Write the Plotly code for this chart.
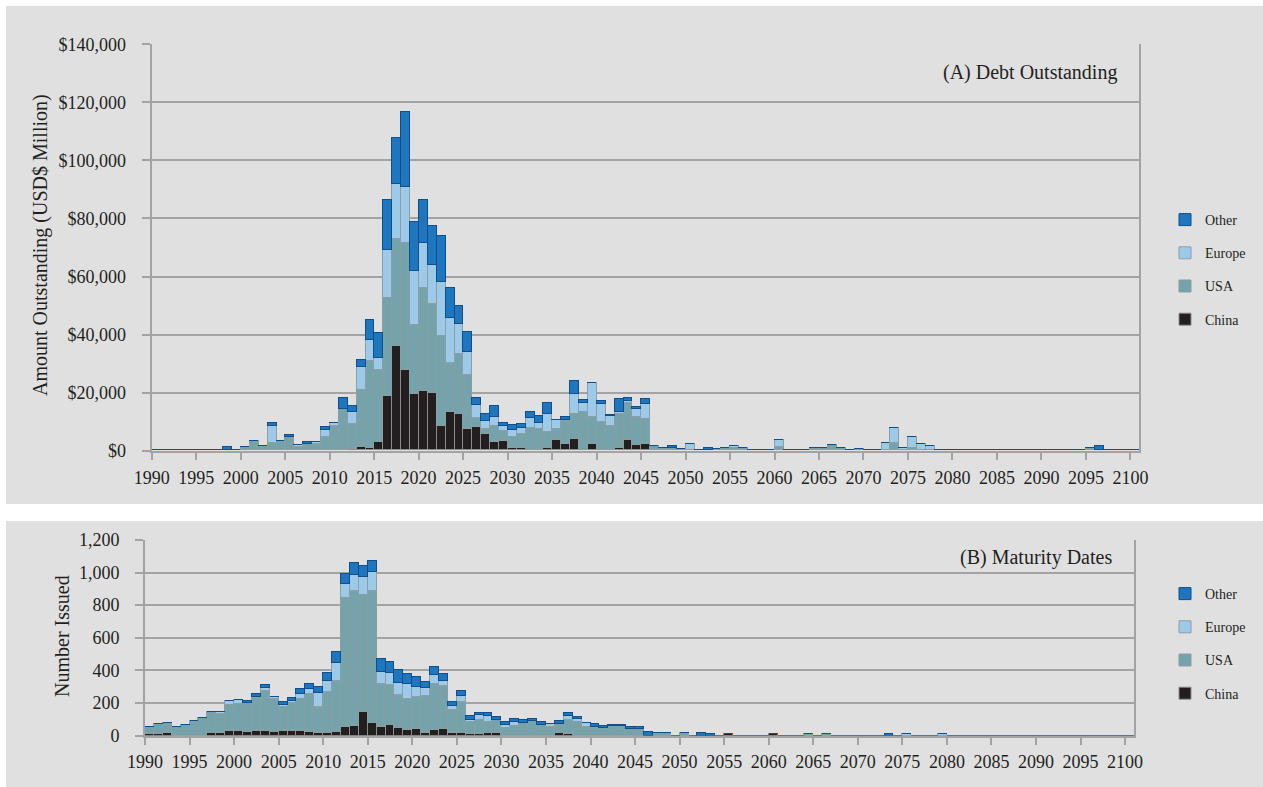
import plotly.graph_objects as go

# ---------------- data ----------------
years = list(range(1990, 2101))

# (A) Debt outstanding, USD$ million, by maturity year (1990..2100)
debt_china = ([0] * 20 +
              [0, 0, 600, 1200, 700, 2800, 18800, 35800, 27700, 19600,
               20600, 19900, 8500, 13100, 12500, 7500, 8100, 5500, 2900, 3300,
               700, 700, 0, 0, 700, 3600, 2300, 3900, 300, 2300,
               300, 300, 900, 3700, 1900, 2100, 0, 0, 0, 0] +
              [0] * 51)
debt_usa = ([0] * 10 +
            [1200, 3400, 1600, 2500, 3400, 4600, 1200, 2100, 2100, 4700,
             8300, 14400, 8500, 19500, 30000, 24800, 33700, 37000, 43900, 23600,
             35500, 30700, 30900, 17000, 20800, 18600, 3100, 1900, 5600, 3500,
             4000, 5100, 7800, 7500, 5700, 3800, 8000, 8700, 13000, 9200,
             9500, 8100, 11700, 12800, 9700, 8700, 1400, 900, 800, 400,
             0, 300, 0, 500, 900, 900, 900, 0, 0, 0,
             1100, 300, 300, 300, 900, 900, 1700, 900, 0, 400,
             0, 0, 0, 2500, 0, 900, 0, 0, 0, 0] +
            [0] * 10 +
            [0, 0, 0, 0, 0, 900, 0, 0, 0, 0, 0])
debt_europe = ([0] * 10 +
               [0, 0, 0, 5800, 0, 0, 700, 0, 700, 2200,
                1200, 0, 4200, 8200, 7200, 4200, 16500, 19000, 19000, 18700,
                15400, 13400, 18600, 15500, 10300, 7800, 4400, 2800, 2900, 1700,
                2400, 2000, 3400, 2000, 6200, 3200, 300, 7000, 3000, 11700,
                6200, 3300, 700, 600, 2700, 5200, 0, 0, 0, 0,
                2200, 0, 0, 0, 0, 600, 0, 0, 0, 0,
                2500, 0, 0, 0, 0, 0, 0, 0, 0, 0,
                0, 0, 2400, 5200, 1000, 3700, 2200, 1500, 0, 0] +
               [0] * 21)
debt_other = ([0, 0, 0, 0, 0, 0, 0, 0, 1200, 0,
               0, 0, 0, 1000, 0, 600, 0, 900, 0, 1000,
               0, 3500, 1900, 2300, 6900, 8500, 17100, 15700, 26100, 16800,
               14900, 13200, 16000, 10400, 6000, 7000, 2300, 2200, 3900, 1100,
               1500, 1300, 1900, 2300, 3700, 0, 900, 4400, 1100, 0,
               1100, 600, 4500, 800, 600, 1800, 0, 0, 600, 0,
               0, 0, 800, 0, 0, 0, 0, 0, 0, 0] +
              [0] * 30 +
              [0, 0, 0, 0, 0, 0, 1400, 0, 0, 0, 0])

# (B) Number of issues, by maturity year (1990..2100)
num_china = ([8, 9, 13, 0, 0, 0, 0, 17, 17, 26,
              26, 24, 26, 26, 21, 26, 26, 26, 21, 13,
              17, 21, 54, 58, 142, 77, 50, 64, 46, 32,
              38, 17, 32, 40, 13, 13, 9, 9, 13, 13,
              0, 0, 0, 0, 0, 0, 13, 11, 0, 0] +
             [0] * 10 +
             [0, 0, 0, 0, 0, 12, 0, 0, 0, 0,
              12, 0, 0, 0, 0, 0, 0, 0, 0, 0] +
             [0] * 31)
num_usa = ([46, 62, 66, 54, 62, 81, 107, 127, 113, 161,
            169, 173, 212, 245, 201, 151, 171, 198, 234, 164,
            248, 316, 788, 829, 718, 808, 268, 244, 203, 190,
            198, 228, 282, 262, 144, 193, 74, 84, 72, 84,
            48, 56, 79, 87, 66, 54, 60, 82, 81, 52,
            48, 44, 56, 56, 42, 42, 0, 13, 13, 0,
            15, 0, 0, 0, 0, 0, 0, 0, 0, 0,
            0, 0, 0, 0, 12, 0, 12, 0, 0, 0] +
           [0] * 31)
num_europe = ([0, 0, 0, 0, 0, 10, 0, 0, 14, 23,
               23, 0, 0, 19, 16, 12, 17, 28, 31, 85,
               70, 110, 86, 96, 111, 117, 72, 78, 71, 92,
               64, 47, 55, 33, 22, 39, 12, 33, 37, 0,
               18, 25, 0, 0, 0, 16, 0, 29, 20, 27,
               6, 0, 0, 0, 0, 0, 0, 0, 0, 0] +
              [0] * 20 +
              [0, 0, 0, 0, 0, 10, 0, 0, 0, 10] +
              [0] * 21)
num_other = ([0] * 10 +
             [0, 17, 17, 18, 0, 17, 16, 34, 32, 34,
              46, 68, 63, 74, 69, 69, 81, 67, 80, 63,
              61, 34, 49, 42, 27, 30, 25, 10, 14, 15,
              17, 22, 18, 16, 15, 0, 18, 14, 13, 0,
              15, 14, 8, 8, 8, 12, 19, 0, 0, 0,
              0, 0, 13, 11, 0, 0, 0, 0, 0, 0] +
             [0] * 10 +
             [0, 0, 0, 12, 0, 0, 0, 0, 0, 0] +
             [0] * 31)

series_names = ["China", "USA", "Europe", "Other"]
legend_rank = {"Other": 1, "Europe": 2, "USA": 3, "China": 4}
fills = {"China": "#231F20", "USA": "#74A3AB", "Europe": "#9DCAE9", "Other": "#1E76BF"}
edges = {"China": "#8C8C8C", "USA": "#8E9C9E", "Europe": "#8E9EA8", "Other": "#0E4F8C"}

W, H = 1263, 787
FONT = "Liberation Serif, Times New Roman, serif"
TXT = "#231F20"
GRID = "#A3A3A3"
PANEL = "#E0E0E0"

def px(x):
    return x / W

def py(y):
    return 1 - y / H

fig = go.Figure()

top_data = {"China": debt_china, "USA": debt_usa, "Europe": debt_europe, "Other": debt_other}
bot_data = {"China": num_china, "USA": num_usa, "Europe": num_europe, "Other": num_other}

for name in series_names:
    fig.add_trace(go.Bar(
        x=years, y=top_data[name], name=name, width=1, offset=0,
        marker=dict(color=fills[name], line=dict(color=edges[name], width=1)),
        xaxis="x", yaxis="y", legend="legend", legendgroup="a" + name,
        legendrank=legend_rank[name],
    ))
for name in series_names:
    fig.add_trace(go.Bar(
        x=years, y=bot_data[name], name=name, width=1, offset=0,
        marker=dict(color=fills[name], line=dict(color=edges[name], width=1)),
        xaxis="x2", yaxis="y2", legend="legend2", legendgroup="b" + name,
        legendrank=legend_rank[name],
    ))

axis_common = dict(
    showline=True, linecolor=GRID, linewidth=2,
    ticks="outside", tickcolor=GRID, tickwidth=2,
    tickfont=dict(family=FONT, size=18, color=TXT),
    zeroline=False, automargin=False,
)

fig.update_layout(
    width=W, height=H,
    margin=dict(l=0, r=0, t=0, b=0, pad=0, autoexpand=False),
    paper_bgcolor="white", plot_bgcolor=PANEL,
    barmode="stack", bargap=0,
    showlegend=True,
    font=dict(family=FONT, color=TXT),
    xaxis=dict(domain=[px(151.7), px(1139.3)], anchor="y", range=[1990, 2101],
               tick0=1990, dtick=5, ticklen=7, showgrid=False,
               ticklabelstandoff=3, **axis_common),
    yaxis=dict(domain=[py(450.7), py(44.3)], anchor="x", range=[0, 140000],
               dtick=20000, tickprefix="$", tickformat=",", ticklen=8,
               showgrid=True, gridcolor=GRID, gridwidth=2, mirror=True,
               ticklabelstandoff=12, **axis_common),
    xaxis2=dict(domain=[px(145), px(1134)], anchor="y2", range=[1990, 2101],
                tick0=1990, dtick=5, ticklen=7, showgrid=False,
                ticklabelstandoff=2, **axis_common),
    yaxis2=dict(domain=[py(735.5), py(540)], anchor="x2", range=[0, 1200],
                dtick=200, tickformat=",", ticklen=8,
                showgrid=True, gridcolor=GRID, gridwidth=2, mirror=True,
                ticklabelstandoff=12, **axis_common),
    legend=dict(x=px(1165), y=py(204), xanchor="left", yanchor="top",
                traceorder="grouped", tracegroupgap=12,
                bgcolor="rgba(0,0,0,0)",
                font=dict(family=FONT, size=14, color=TXT)),
    legend2=dict(x=px(1165), y=py(578), xanchor="left", yanchor="top",
                 traceorder="grouped", tracegroupgap=12,
                 bgcolor="rgba(0,0,0,0)",
                 font=dict(family=FONT, size=14, color=TXT)),
    shapes=[
        dict(type="rect", xref="paper", yref="paper", x0=px(6), x1=1,
             y0=py(504), y1=py(6), fillcolor=PANEL, line=dict(width=0), layer="below"),
        dict(type="rect", xref="paper", yref="paper", x0=px(6), x1=1,
             y0=0, y1=py(521), fillcolor=PANEL, line=dict(width=0), layer="below"),
    ],
    annotations=[
        dict(text="(A) Debt Outstanding", xref="paper", yref="paper",
             x=px(1119), y=py(72), xanchor="right", yanchor="middle",
             showarrow=False, font=dict(family=FONT, size=20, color=TXT)),
        dict(text="(B) Maturity Dates", xref="paper", yref="paper",
             x=px(1114), y=py(557), xanchor="right", yanchor="middle",
             showarrow=False, font=dict(family=FONT, size=20, color=TXT)),
        dict(text="Amount Outstanding (USD$ Million)", xref="paper", yref="paper",
             x=px(41), y=py(245), xanchor="center", yanchor="middle", textangle=-90,
             showarrow=False, font=dict(family=FONT, size=20, color=TXT)),
        dict(text="Number Issued", xref="paper", yref="paper",
             x=px(62), y=py(636), xanchor="center", yanchor="middle", textangle=-90,
             showarrow=False, font=dict(family=FONT, size=20, color=TXT)),
    ],
)

fig.write_html("out.html",
               config={"displayModeBar": False},
               post_script="document.body.style.margin='0';document.body.style.overflow='hidden';")
